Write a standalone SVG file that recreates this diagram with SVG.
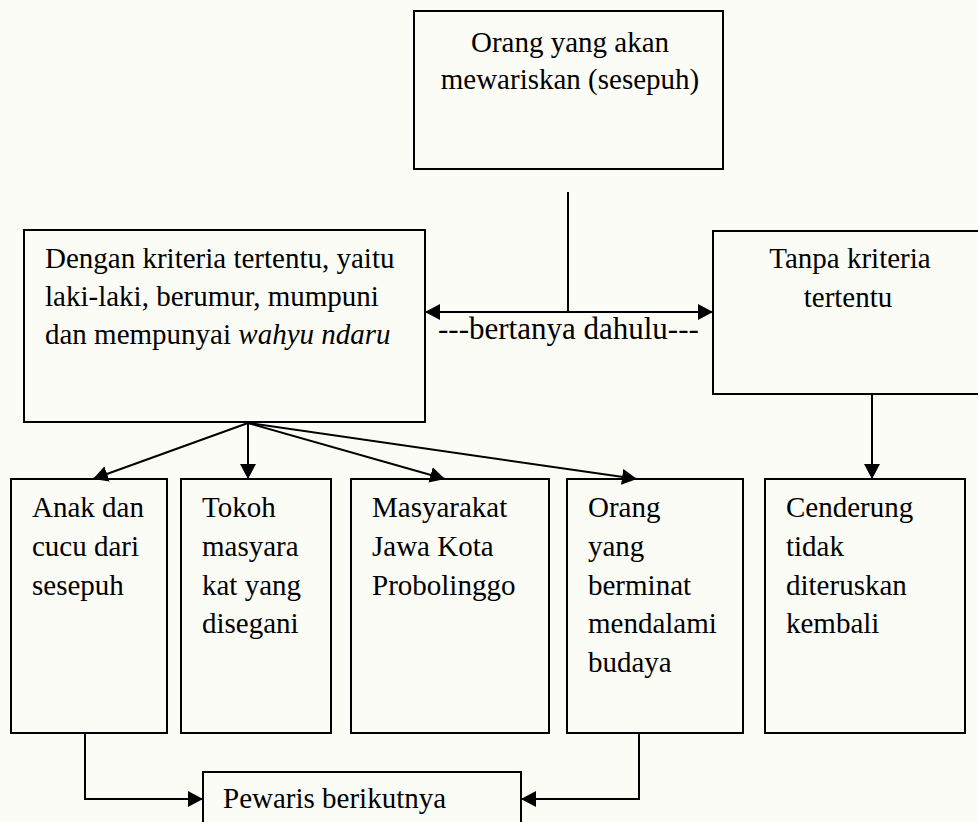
<svg xmlns="http://www.w3.org/2000/svg" width="978" height="822" viewBox="0 0 978 822">
<style>
.box{fill:none;stroke:#000;stroke-width:2}
.ln{fill:none;stroke:#000;stroke-width:2}
text{font-family:"Liberation Serif","Times New Roman",serif;font-size:29px;fill:#000}
.c{text-anchor:middle}
.lbl{font-size:31px}
</style>
<defs>
<marker id="ah" viewBox="0 0 15 16" refX="15" refY="8" markerWidth="15" markerHeight="16" markerUnits="userSpaceOnUse" orient="auto-start-reverse">
<path d="M0,0 L15,8 L0,16 z" fill="#000"/>
</marker>
</defs>
<rect x="0" y="0" width="978" height="822" fill="#fcfcf7"/>

<g id="connectors">
<polyline class="ln" points="568,192 568,312"/>
<line class="ln" x1="425" y1="312" x2="713" y2="312" marker-start="url(#ah)" marker-end="url(#ah)"/>
<line class="ln" x1="248" y1="423" x2="93" y2="479" marker-end="url(#ah)"/>
<line class="ln" x1="248" y1="423" x2="248" y2="479" marker-end="url(#ah)"/>
<line class="ln" x1="248" y1="423" x2="445" y2="479" marker-end="url(#ah)"/>
<line class="ln" x1="248" y1="423" x2="637" y2="479" marker-end="url(#ah)"/>
<line class="ln" x1="872" y1="394" x2="872" y2="479" marker-end="url(#ah)"/>
<polyline class="ln" points="85,733 85,799 203,799" marker-end="url(#ah)"/>
<polyline class="ln" points="639,733 639,799 521,799" marker-end="url(#ah)"/>
<text class="lbl" x="438" y="339">---bertanya dahulu---</text>
</g>

<g id="sesepuh">
<rect class="box" x="414" y="11" width="309" height="158"/>
<text class="c" x="570" y="52">Orang yang akan</text>
<text class="c" x="570" y="89">mewariskan (sesepuh)</text>
</g>

<g id="dengan-kriteria">
<rect class="box" x="24" y="230" width="401" height="192"/>
<text x="45" y="268">Dengan kriteria tertentu, yaitu</text>
<text x="45" y="306">laki-laki, berumur, mumpuni</text>
<text x="45" y="344">dan mempunyai <tspan font-style="italic">wahyu ndaru</tspan></text>
</g>

<g id="tanpa-kriteria">
<rect class="box" x="713" y="231" width="275" height="163"/>
<text class="c" x="850" y="268">Tanpa kriteria</text>
<text class="c" x="848" y="307">tertentu</text>
</g>

<g id="anak-cucu">
<rect class="box" x="11" y="479" width="156" height="254"/>
<text x="32" y="517">Anak dan</text>
<text x="32" y="556">cucu dari</text>
<text x="32" y="595">sesepuh</text>
</g>

<g id="tokoh">
<rect class="box" x="181" y="479" width="150" height="254"/>
<text x="202" y="517">Tokoh</text>
<text x="202" y="556">masyara</text>
<text x="202" y="595">kat yang</text>
<text x="202" y="633">disegani</text>
</g>

<g id="masyarakat">
<rect class="box" x="351" y="479" width="198" height="254"/>
<text x="372" y="517">Masyarakat</text>
<text x="372" y="556">Jawa Kota</text>
<text x="372" y="595">Probolinggo</text>
</g>

<g id="berminat">
<rect class="box" x="567" y="479" width="176" height="254"/>
<text x="588" y="517">Orang</text>
<text x="588" y="556">yang</text>
<text x="588" y="595">berminat</text>
<text x="588" y="633">mendalami</text>
<text x="588" y="672">budaya</text>
</g>

<g id="cenderung">
<rect class="box" x="765" y="479" width="200" height="254"/>
<text x="786" y="517">Cenderung</text>
<text x="786" y="556">tidak</text>
<text x="786" y="595">diteruskan</text>
<text x="786" y="633">kembali</text>
</g>

<g id="pewaris">
<rect class="box" x="203" y="772" width="318" height="80"/>
<text x="223" y="808">Pewaris berikutnya</text>
</g>
</svg>
